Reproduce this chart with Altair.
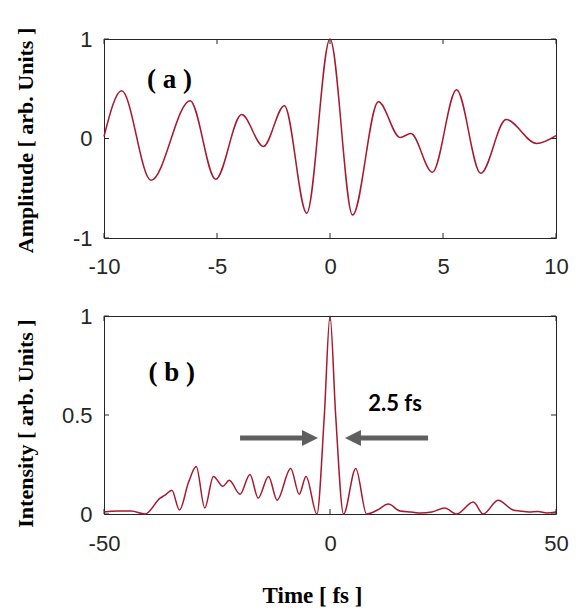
import altair as alt
import pandas as pd

# ---- panel (a): field amplitude, time in fs ----
amp_time = [-10.0, -9.22, -7.92, -6.19, -5.06, -3.91, -2.95, -2.02, -1.03, 0.0,
            1.0, 2.14, 3.10, 3.58, 4.53, 5.6, 6.67, 7.79, 9.14, 10.0]
amp_value = [0.02, 0.48, -0.42, 0.38, -0.41, 0.24, -0.08, 0.33, -0.75, 1.0,
             -0.77, 0.37, 0.01, 0.05, -0.34, 0.49, -0.35, 0.19, -0.05, 0.03]

# ---- panel (b): intensity envelope, time in fs ----
int_time = [-50, -47, -44, -40.9, -37.6, -36.5, -35.0, -33.3, -31.3, -29.6,
            -27.7, -25.8, -23.7, -22.3, -19.9, -17.7, -15.9, -13.6, -11.7, -8.7,
            -6.8, -5.3, -2.9, -1.25, 0.0, 1.25, 3.0, 5.7, 8.1, 10.5,
            12.9, 15.5, 18.0, 20.0, 22.5, 25.4, 28.0, 31.7, 33.9, 37.2,
            40.5, 42.0, 44.0, 46.0, 48.0, 50.0]
int_value = [0.01, 0.015, 0.015, 0.0, 0.08, 0.095, 0.12, 0.02, 0.16, 0.24,
             0.03, 0.19, 0.14, 0.17, 0.10, 0.20, 0.08, 0.19, 0.07, 0.23,
             0.10, 0.19, 0.0, 0.5, 1.0, 0.5, 0.0, 0.23, 0.0, 0.02,
             0.05, 0.015, 0.01, 0.005, 0.01, 0.03, 0.0, 0.06, 0.0, 0.07,
             0.02, 0.015, 0.01, 0.012, 0.005, 0.01]

# tick positions
a_xticks = [-10, -5, 0, 5, 10]
a_yticks = [-1, 0, 1]
b_xticks = [-50, 0, 50]
b_yticks = [0, 0.5, 1]

# panel tags and the pulse-width annotation
a_tag = ["( a )"]
a_tag_t = [-7.1]
a_tag_v = [0.59]
b_tag = ["( b )"]
b_tag_t = [-35.0]
b_tag_v = [0.71]
width_label = ["2.5 fs"]
width_label_t = [14.4]
width_label_v = [0.556]
arrow_v = [0.384]
left_arrow = [-19.9, -5.8, -2.65]    # tail, shaft end, tip
right_arrow = [21.7, 6.2, 3.3]

LINE = "#A8182F"
AXC = "#262626"
ARROW = "#5f5f5f"
W = 452
HA = 199
HB = 198
TICK = 5


def num_axis(values, title=None, **kw):
    return alt.Axis(values=values, domain=False, ticks=False, grid=False,
                    labelFont="Liberation Sans", labelFontSize=22, labelColor=AXC,
                    labelFlush=False, labelOverlap=False,
                    labelExpr="'' + datum.value", title=title, **kw)


def y_title(text, ty):
    return dict(title=text, labelPadding=12, titleFont="Liberation Serif",
                titleFontWeight="bold", titleFontSize=22, titleColor="black",
                titleAngle=-90, titleBaseline="middle", titleAlign="center",
                titleX=-79, titleY=ty)


def inner_ticks(xvals, yvals, X, Y, h):
    base_x = alt.Chart(pd.DataFrame({"t": xvals})).mark_rule(color=AXC, strokeWidth=1)
    base_y = alt.Chart(pd.DataFrame({"v": yvals})).mark_rule(color=AXC, strokeWidth=1)
    return [
        base_x.encode(x=X, y=alt.value(h), y2=alt.value(h - TICK)),
        base_x.encode(x=X, y=alt.value(0), y2=alt.value(TICK)),
        base_y.encode(y=Y, x=alt.value(0), x2=alt.value(TICK)),
        base_y.encode(y=Y, x=alt.value(W), x2=alt.value(W - TICK)),
    ]


def tag_layer(labels, ts, vs, X, Y, font, size):
    df = pd.DataFrame({"t": ts, "v": vs, "label": labels})
    return alt.Chart(df).mark_text(font=font, fontWeight="bold", fontSize=size,
                                   color="black", baseline="middle", align="center").encode(
        x=X, y=Y, text="label:N")


# ---------- panel (a) ----------
X_A = alt.X("t:Q", scale=alt.Scale(domain=[-10, 10], nice=False, zero=False),
            axis=num_axis(a_xticks, labelPadding=18))
Y_A = alt.Y("v:Q", scale=alt.Scale(domain=[-1, 1], nice=False, zero=False),
            axis=num_axis(a_yticks, **y_title("Amplitude [ arb. Units ]", 101)))
df_a = pd.DataFrame({"t": amp_time, "v": amp_value})

line_a = alt.Chart(df_a).mark_line(color=LINE, strokeWidth=1.5, interpolate="monotone").encode(
    x=X_A, y=Y_A)

panel_a = alt.layer(
    line_a,
    *inner_ticks(a_xticks, a_yticks, X_A, Y_A, HA),
    tag_layer(a_tag, a_tag_t, a_tag_v, X_A, Y_A, "Liberation Serif", 27),
).properties(width=W, height=HA)

# ---------- panel (b) ----------
X_B = alt.X("t:Q", scale=alt.Scale(domain=[-50, 50], nice=False, zero=False),
            axis=num_axis(b_xticks, title="Time [ fs ]", labelPadding=19,
                          titleFont="Liberation Serif", titleFontWeight="bold",
                          titleFontSize=23, titleColor="black",
                          titleBaseline="middle", titleAlign="center",
                          titleX=208, titleY=81))
Y_B = alt.Y("v:Q", scale=alt.Scale(domain=[0, 1], nice=False, zero=False),
            axis=num_axis(b_yticks, **y_title("Intensity [ arb. Units ]", 107)))
df_b = pd.DataFrame({"t": int_time, "v": int_value})

line_b = alt.Chart(df_b).mark_line(color=LINE, strokeWidth=1.5, interpolate="monotone").encode(
    x=X_B, y=Y_B)

arrow_df = pd.DataFrame({
    "t": [left_arrow[0], right_arrow[0]],
    "end": [left_arrow[1], right_arrow[1]],
    "v": arrow_v * 2,
})
shafts = alt.Chart(arrow_df).mark_rule(color=ARROW, strokeWidth=5).encode(
    x=X_B, x2="end:Q", y=Y_B)

head_r = alt.Chart(pd.DataFrame({"t": [left_arrow[2]], "v": arrow_v})).mark_point(
    shape="M-2,-1L0,0L-2,1Z", size=256, filled=True, color=ARROW, opacity=1, strokeWidth=0).encode(
    x=X_B, y=Y_B)
head_l = alt.Chart(pd.DataFrame({"t": [right_arrow[2]], "v": arrow_v})).mark_point(
    shape="M2,-1L0,0L2,1Z", size=256, filled=True, color=ARROW, opacity=1, strokeWidth=0).encode(
    x=X_B, y=Y_B)

panel_b = alt.layer(
    line_b,
    *inner_ticks(b_xticks, b_yticks, X_B, Y_B, HB),
    tag_layer(b_tag, b_tag_t, b_tag_v, X_B, Y_B, "Liberation Serif", 27),
    shafts, head_r, head_l,
    tag_layer(width_label, width_label_t, width_label_v, X_B, Y_B, "Lato", 22),
).properties(width=W, height=HB)

chart = alt.vconcat(panel_a, panel_b, spacing=78, bounds="flush").properties(
    padding={"left": 13, "top": 26, "right": 5, "bottom": 5},
    background="white",
).configure_view(stroke=AXC, strokeWidth=1)

chart.save("out.html", embed_options={"renderer": "svg", "actions": False})
